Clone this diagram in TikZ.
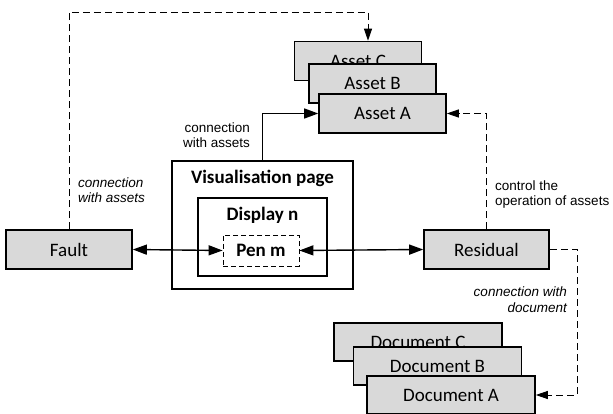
\documentclass[tikz,border=0pt]{standalone}
\usepackage{fontspec}
\setmainfont{Carlito}
\newfontfamily\notefont{Liberation Sans}
\usetikzlibrary{arrows.meta}
\definecolor{boxgray}{RGB}{217,217,217}

\begin{document}
\begin{tikzpicture}[x=1pt,y=1pt]
\tikzstyle{every node}+=[inner sep=0pt]
\tikzstyle{gbox}=[draw=black,fill=boxgray,line width=1.6pt,minimum width=127,minimum height=39,font=\fontsize{19}{21}\selectfont]
\tikzstyle{dbox}=[gbox,minimum width=168,minimum height=38]
\tikzstyle{frame}=[draw=black,line width=1.6pt]
\tikzstyle{title}=[font=\bfseries\fontsize{19}{21}\selectfont]
\tikzstyle{note}=[font=\notefont\fontsize{13.5}{15.5}\selectfont]
\tikzstyle{inote}=[font=\notefont\itshape\fontsize{13.5}{15.5}\selectfont]
\tikzstyle{link}=[black,line width=1.4pt,-{Triangle[length=14pt,width=10pt]}]
\tikzstyle{dlink}=[black,line width=0.9pt,dash pattern=on 7pt off 4pt,-{Triangle[length=12pt,width=8pt]}]
\useasboundingbox (0,0) rectangle (613,-414);
% assets
\node [gbox] (assetC) at (358,-61) {Asset C};
\node [gbox] (assetB) at (372.5,-83.5) {Asset B};
\node [gbox] (assetA) at (382.5,-113.5) {Asset A};
% visualisation page
\node [frame,minimum width=181,minimum height=128] (page) at (262.5,-225) {};
\node [title] (pagetitle) at (262.5,-178) {Visualisation page};
\node [frame,minimum width=129,minimum height=78] (display) at (262.5,-237) {};
\node [title] (disptitle) at (262.5,-215) {Display n};
\node [title,draw=black,line width=0.8pt,dash pattern=on 5pt off 3pt,minimum width=76,minimum height=31] (pen) at (261,-250.5) {Pen m};
% fault and residual
\node [gbox,minimum width=126] (fault) at (69,-249.5) {Fault};
\node [gbox,minimum width=125] (residual) at (486.5,-249.5) {Residual};
% documents
\node [dbox] (docC) at (418,-342) {Document C};
\node [dbox] (docB) at (437.5,-366) {Document B};
\node [dbox] (docA) at (451,-395) {Document A};
% connectors
\draw [link,{Triangle[length=14pt,width=10pt]}-{Triangle[length=14pt,width=10pt]}] (fault.east) -- (pen.west);
\draw [link,{Triangle[length=14pt,width=10pt]}-{Triangle[length=14pt,width=10pt]}] (pen.east) -- (residual.west);
\draw [link] (page.north) |- (assetA.west);
\coordinate (topleft) at (69,-12);
\coordinate (topright) at (368,-12);
\draw [dlink] (fault.north) -- (topleft) -- (topright) -- (topright |- assetC.north);
\draw [dlink] (residual.north) |- (assetA.east);
\coordinate (rescorner) at (577,-249.5);
\draw [dlink] (residual.east) -- (rescorner) |- (docA.east);
% notes
\node [note,anchor=east,align=right] (assetnote) at (250,-135) {connection\\with assets};
\node [inote,anchor=west,align=left] (faultnote) at (78,-190) {connection\\with assets};
\node [note,anchor=west,align=left] (ctrlnote) at (495,-194.5) {control the\\operation of assets};
\node [inote,anchor=east,align=right] (docnote) at (567,-299.5) {connection with\\document};
\end{tikzpicture}
\end{document}
